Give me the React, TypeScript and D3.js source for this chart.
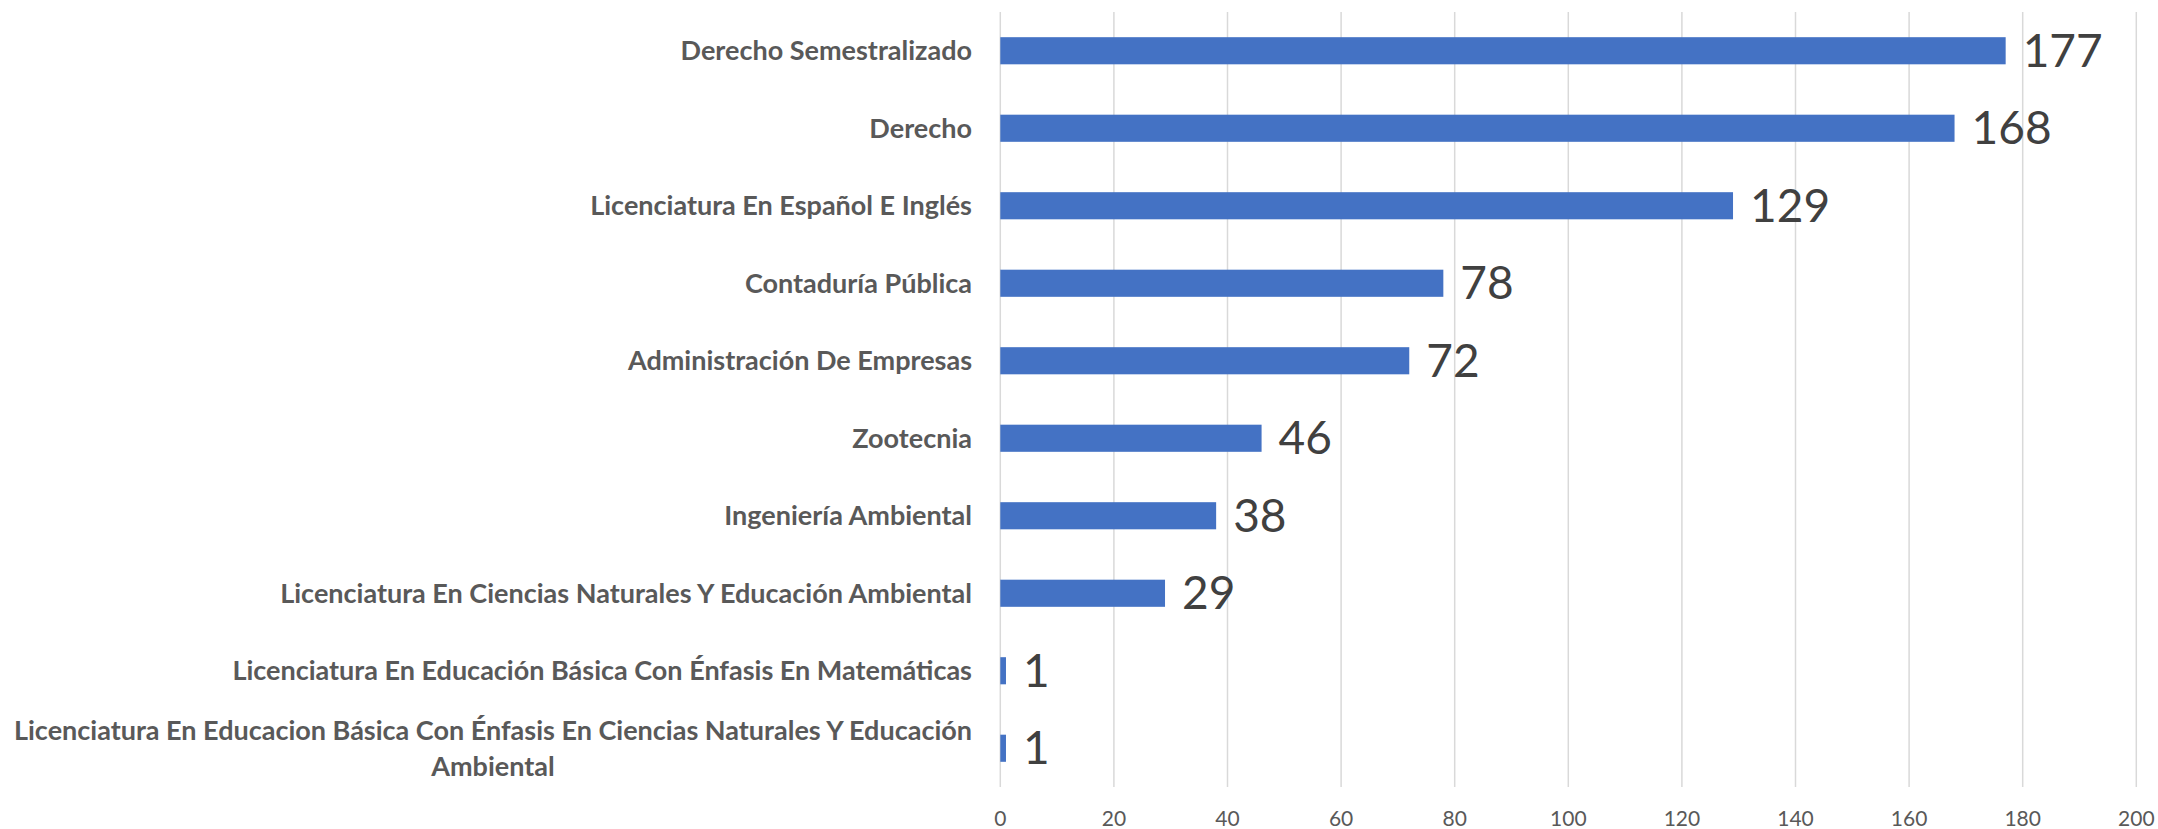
import React, { useEffect, useRef } from "react";
import * as d3 from "d3";

const categories: string[][] = [
  ["Derecho Semestralizado"],
  ["Derecho"],
  ["Licenciatura En Español E Inglés"],
  ["Contaduría Pública"],
  ["Administración De Empresas"],
  ["Zootecnia"],
  ["Ingeniería Ambiental"],
  ["Licenciatura En Ciencias Naturales Y Educación Ambiental"],
  ["Licenciatura En Educación Básica Con Énfasis En Matemáticas"],
  ["Licenciatura En Educacion Básica Con Énfasis En Ciencias Naturales Y Educación", "Ambiental"],
];
const values: number[] = [177, 168, 129, 78, 72, 46, 38, 29, 1, 1];
const xTicks: number[] = [0, 20, 40, 60, 80, 100, 120, 140, 160, 180, 200];

const W = 2158;
const H = 829;
const FONT = "Lato, 'Open Sans', sans-serif";

export default function App() {
  const ref = useRef<SVGSVGElement | null>(null);

  useEffect(() => {
    const svg = d3.select(ref.current);
    svg.selectAll("*").remove();

    const keys = categories.map((c) => c.join(" "));
    const x = d3.scaleLinear().domain([0, 200]).range([1000.3, 2136.3]);
    const y = d3.scaleBand<string>().domain(keys).range([12, 787]).padding(0);
    const barH = y.bandwidth() * 0.35;

    // gridlines
    svg
      .append("g")
      .selectAll("line")
      .data(xTicks)
      .join("line")
      .attr("x1", (d) => x(d))
      .attr("x2", (d) => x(d))
      .attr("y1", 12)
      .attr("y2", 787)
      .attr("stroke", "#d9d9d9")
      .attr("stroke-width", 1.5);

    // tick labels
    svg
      .append("g")
      .selectAll("text")
      .data(xTicks)
      .join("text")
      .attr("x", (d) => x(d))
      .attr("y", 826)
      .attr("text-anchor", "middle")
      .attr("font-family", FONT)
      .attr("font-size", 21)
      .attr("fill", "#595959")
      .text((d) => String(d));

    // bars
    svg
      .append("g")
      .selectAll("rect")
      .data(values)
      .join("rect")
      .attr("x", x(0))
      .attr("y", (_d, i) => (y(keys[i]) as number) + y.bandwidth() / 2 - barH / 2)
      .attr("width", (d) => x(d) - x(0))
      .attr("height", barH)
      .attr("fill", "#4472C4");

    // value labels
    svg
      .append("g")
      .selectAll("text")
      .data(values)
      .join("text")
      .attr("x", (d) => x(d) + 17)
      .attr("y", (_d, i) => (y(keys[i]) as number) + y.bandwidth() / 2 + 16)
      .attr("font-family", FONT)
      .attr("font-size", 46)
      .attr("fill", "#404040")
      .text((d) => String(d));

    // category labels
    const labelRight = 972;
    const fs = 27;
    const lg = svg.append("g");
    categories.forEach((lines, i) => {
      const cy = (y(keys[i]) as number) + y.bandwidth() / 2;
      const lineGap = 36;
      if (lines.length === 1) {
        lg.append("text")
          .attr("x", labelRight)
          .attr("y", cy + 9.5)
          .attr("text-anchor", "end")
          .attr("font-family", FONT)
          .attr("font-weight", 700)
          .attr("font-size", fs)
          .attr("fill", "#595959")
          .text(lines[0]);
      } else {
        const first = lg
          .append("text")
          .attr("x", labelRight)
          .attr("y", cy - lineGap / 2 + 9.5)
          .attr("text-anchor", "end")
          .attr("font-family", FONT)
          .attr("font-weight", 700)
          .attr("font-size", fs)
          .attr("fill", "#595959")
          .text(lines[0]);
        const w = (first.node() as SVGTextElement).getComputedTextLength();
        const mid = labelRight - w / 2;
        lines.slice(1).forEach((ln, j) => {
          lg.append("text")
            .attr("x", mid)
            .attr("y", cy - lineGap / 2 + 9.5 + lineGap * (j + 1))
            .attr("text-anchor", "middle")
            .attr("font-family", FONT)
            .attr("font-weight", 700)
            .attr("font-size", fs)
            .attr("fill", "#595959")
            .text(ln);
        });
      }
    });
  }, []);

  return (
    <svg
      ref={ref}
      width={W}
      height={H}
      style={{ position: "absolute", left: 0, top: 0, background: "#fff" }}
    />
  );
}
